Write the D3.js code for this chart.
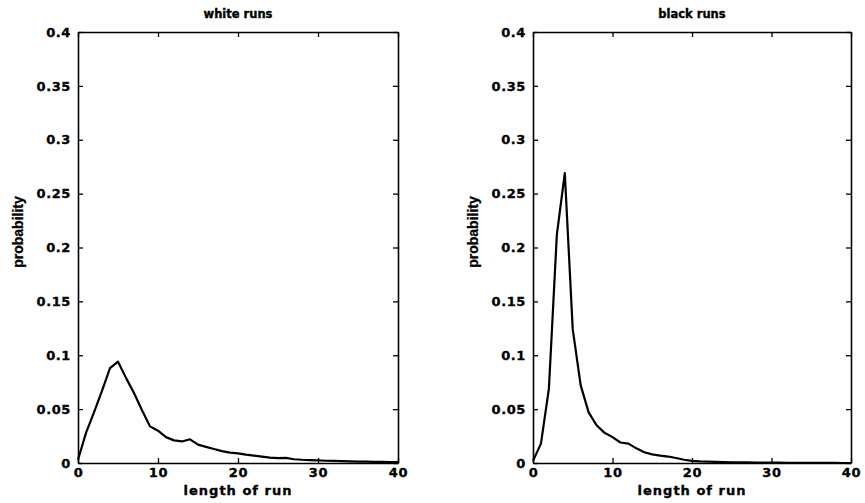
<!DOCTYPE html>
<meta charset="utf-8">
<style>
body { margin: 0; background: white; }
text { fill: black; }
.tick text { font-family: "DejaVu Sans", sans-serif; font-weight: bold; font-size: 13px; letter-spacing: 0.6px; stroke: black; stroke-width: 0.35px; }
.title, .xlab { font-family: "DejaVu Sans", sans-serif; font-weight: bold; stroke: black; stroke-width: 0.35px; }
.ylab { font-family: "Liberation Sans Narrow", "Liberation Sans", sans-serif; font-weight: bold; font-size: 14px; stroke: black; stroke-width: 0.3px; }
</style>
<body>
<script src="https://d3js.org/d3.v7.min.js"></script>
<script>

// run lengths 0..40
var runLength = d3.range(0, 41);

var whiteProb = [0.003, 0.028, 0.047, 0.067, 0.088, 0.094, 0.079, 0.065, 0.049, 0.034,
  0.030, 0.024, 0.021, 0.020, 0.022, 0.017, 0.015, 0.013, 0.011, 0.0096,
  0.009, 0.0077, 0.0068, 0.006, 0.005, 0.0045, 0.0048, 0.0035, 0.003, 0.0027,
  0.0024, 0.0021, 0.0019, 0.0017, 0.0015, 0.0013, 0.0012, 0.0011, 0.001, 0.0009, 0.0008];

var blackProb = [0.002, 0.018, 0.069, 0.212, 0.269, 0.124, 0.072, 0.047, 0.035, 0.028,
  0.024, 0.019, 0.018, 0.0136, 0.010, 0.008, 0.0068, 0.006, 0.0046, 0.003,
  0.002, 0.0015, 0.0012, 0.001, 0.0008, 0.0007, 0.0006, 0.0005, 0.0004, 0.0004,
  0.0003, 0.0003, 0.0002, 0.0002, 0.0002, 0.0001, 0.0001, 0.0001, 0.0001, 0, 0];

var xTicks = [0, 10, 20, 30, 40];
var yTicks = [0, 0.05, 0.1, 0.15, 0.2, 0.25, 0.3, 0.35, 0.4];

var width = 865, height = 503;

var svg = d3.select("body").append("svg")
    .attr("width", width)
    .attr("height", height);

function panel(left, right, title, values) {
  var top = 32, bottom = 463;
  var x = d3.scaleLinear().domain([0, 40]).range([left, right]);
  var y = d3.scaleLinear().domain([0, 0.4]).range([bottom, top]);
  var g = svg.append("g");

  // ticks pointing inwards on all four sides, labels on left and bottom only
  var fmtY = function(d) { return d === 0 ? "0" : d3.format("~g")(d); };
  g.append("g").attr("transform", "translate(0," + bottom + ")")
    .call(d3.axisBottom(x).tickValues(xTicks).tickSizeInner(-5).tickSizeOuter(0).tickPadding(5));
  g.append("g").attr("transform", "translate(0," + top + ")")
    .call(d3.axisTop(x).tickValues(xTicks).tickSizeInner(-5).tickSizeOuter(0).tickFormat(""));
  g.append("g").attr("transform", "translate(" + left + ",0)")
    .call(d3.axisLeft(y).tickValues(yTicks).tickSizeInner(-5).tickSizeOuter(0).tickPadding(7).tickFormat(fmtY));
  g.append("g").attr("transform", "translate(" + right + ",0)")
    .call(d3.axisRight(y).tickValues(yTicks).tickSizeInner(-5).tickSizeOuter(0).tickFormat(""));

  g.selectAll(".domain").attr("stroke", "black").attr("stroke-width", 1.6);
  g.selectAll(".tick line").attr("stroke", "black").attr("stroke-width", 1.3);

  g.append("path")
    .datum(values)
    .attr("fill", "none")
    .attr("stroke", "black")
    .attr("stroke-width", 2.2)
    .attr("stroke-linejoin", "round")
    .attr("d", d3.line()
      .x(function(d, i) { return x(runLength[i]); })
      .y(function(d) { return y(d); }));

  g.append("text").attr("class", "title")
    .attr("x", (left + right) / 2).attr("y", 18)
    .attr("text-anchor", "middle").attr("font-size", 11.5)
    .text(title);

  g.append("text").attr("class", "xlab")
    .attr("x", (left + right) / 2).attr("y", 495)
    .attr("text-anchor", "middle").attr("font-size", 13).attr("letter-spacing", 1)
    .text("length of run");

  g.append("text").attr("class", "ylab")
    .attr("transform", "translate(" + (left - 55) + ",232) rotate(-90)")
    .attr("text-anchor", "middle")
    .text("probability");
}

panel(78, 398, "white runs", whiteProb);
panel(533, 851, "black runs", blackProb);

</script>
</body>
</html>
